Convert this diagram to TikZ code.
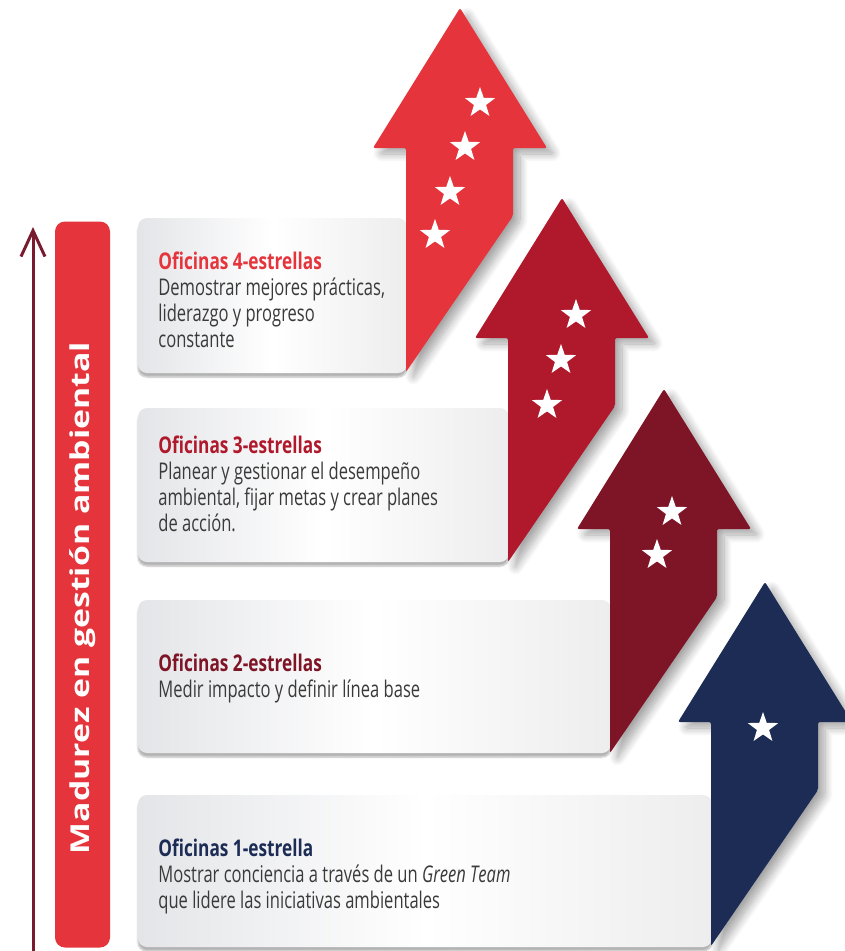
\documentclass[tikz,border=0pt]{standalone}
\usepackage{fontspec}
\usetikzlibrary{positioning,shapes.geometric,shadows.blur,arrows.meta}

\newfontfamily\cardfont[FakeStretch=0.72]{Open Sans}
\newfontfamily\titlefont[FakeStretch=0.75]{Open Sans}
\newfontfamily\barfont[FakeStretch=1.3]{Open Sans}

\definecolor{redfour}{RGB}{229,52,59}
\definecolor{redthree}{RGB}{176,24,44}
\definecolor{redtwo}{RGB}{126,21,38}
\definecolor{navyone}{RGB}{28,44,85}
\definecolor{axiscol}{RGB}{122,26,46}
\definecolor{cardgray}{RGB}{228,229,232}
\definecolor{textgray}{RGB}{58,58,58}

\tikzset{every picture/.style={line width=0.75pt}}
\tikzset{
  card/.style={rectangle, rounded corners=9pt, inner sep=0pt,
    left color=cardgray, right color=white!93!black, middle color=white,
    blur shadow={shadow xshift=0pt, shadow yshift=-4pt, shadow blur steps=6, shadow opacity=30}},
  cardtext/.style={anchor=north west, inner sep=0pt, align=left, text=textgray,
    font=\cardfont\fontsize{23}{26}\selectfont},
  arrowshadow/.style={blur shadow={shadow xshift=7pt, shadow yshift=-6pt, shadow blur steps=10, shadow blur radius=8pt, shadow opacity=35}},
  starnode/.style={star, star points=5, star point ratio=2.5, fill=white, inner sep=0pt, minimum size=32pt},
  labelbar/.style={rectangle, rounded corners=10pt, fill=redfour, inner sep=0pt,
    minimum width=55pt, minimum height=726pt},
  bartext/.style={rotate=90, inner sep=0pt, text=white,
    font=\barfont\bfseries\fontsize{26}{30}\selectfont},
  axisline/.style={draw=axiscol, line width=3pt, -{Straight Barb[length=26pt,width=24pt]}}
}

\begin{document}
\begin{tikzpicture}[x=1pt,y=1pt,yscale=-1,xscale=1]
\useasboundingbox (0,0) rectangle (844,951);

%Straight Lines: axis
\coordinate (abot) at (33,951);
\coordinate (atop) at (33,227);
\draw[axisline] (abot) -- (atop);

%Shape: label bar
\node[labelbar] (bar) at (82.5,584.5) {};
% Text Node
\node[bartext] (lbl) at (83,598) {Madurez en gestión ambiental};

%Shape: cards
\node[card, minimum width=269pt, minimum height=155pt] (c4) at (272.5,295.5) {};
\node[card, minimum width=371pt, minimum height=154pt] (c3) at (323.5,485) {};
\node[card, minimum width=473pt, minimum height=153pt] (c2) at (374.5,676.5) {};
\node[card, minimum width=574pt, minimum height=152pt] (c1) at (425,871) {};

% Text Node
\node[cardtext] (t4) at (158,252) {{\titlefont\bfseries\color{redfour}Oficinas 4-estrellas}\\Demostrar mejores prácticas,\\liderazgo y progreso\\constante};
% Text Node
\node[cardtext] (t3) at (158,436) {{\titlefont\bfseries\color{redthree}Oficinas 3-estrellas}\\Planear y gestionar el desempeño\\ambiental, fijar metas y crear planes\\de acción.};
% Text Node
\node[cardtext] (t2) at (158,654) {{\titlefont\bfseries\color{redtwo}Oficinas 2-estrellas}\\Medir impacto y definir línea base};
% Text Node
\node[cardtext] (t1) at (158,839) {{\titlefont\bfseries\color{navyone}Oficinas 1-estrella}\\Mostrar conciencia a través de un \textit{Green Team}\\que lidere las iniciativas ambientales};

%Shape: Up Arrow 4
\path[fill=redfour, rounded corners=2pt, arrowshadow] (460,8) -- (547,148) -- (513,148) -- (513,216) -- (406,372) -- (406,148) -- (373,148) -- cycle;
%Shape: Up Arrow 3
\path[fill=redthree, rounded corners=2pt, arrowshadow] (562,198) -- (649,338) -- (615,338) -- (615,406) -- (508,562) -- (508,338) -- (475,338) -- cycle;
%Shape: Up Arrow 2
\path[fill=redtwo, rounded corners=2pt, arrowshadow] (664,389) -- (751,529) -- (717,529) -- (717,597) -- (610,753) -- (610,529) -- (577,529) -- cycle;
%Shape: Up Arrow 1
\path[fill=navyone, rounded corners=2pt, arrowshadow] (765,582) -- (852,722) -- (818,722) -- (818,790) -- (711,946) -- (711,722) -- (678,722) -- cycle;

%Shape: stars
\node[starnode] (s41) at (480,103) {};
\node[starnode] (s42) at (465,147) {};
\node[starnode] (s43) at (450,192) {};
\node[starnode] (s44) at (435,235) {};
\node[starnode] (s31) at (576,315) {};
\node[starnode] (s32) at (561,360) {};
\node[starnode] (s33) at (547,405) {};
\node[starnode] (s21) at (672,512) {};
\node[starnode] (s22) at (657,555) {};
\node[starnode] (s11) at (763,728) {};

\end{tikzpicture}
\end{document}
